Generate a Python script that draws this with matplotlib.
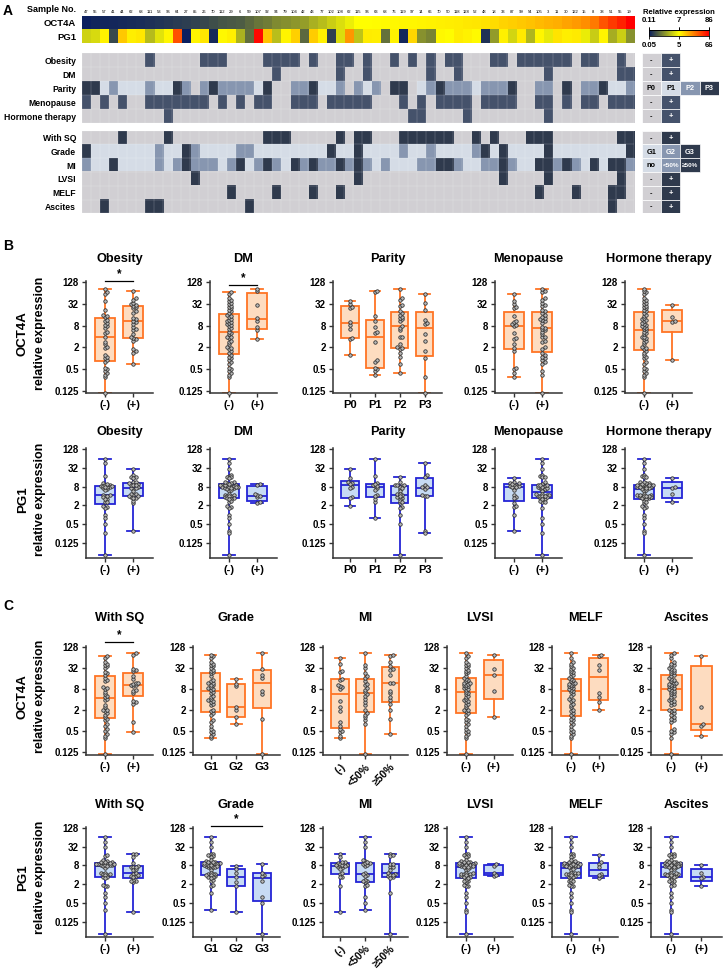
import numpy as np
import matplotlib.pyplot as plt
from matplotlib.colors import LinearSegmentedColormap, TwoSlopeNorm, to_rgba
from matplotlib.patches import Rectangle
from matplotlib.ticker import NullLocator

plt.rcParams['font.family'] = ['Liberation Sans', 'DejaVu Sans']
plt.rcParams['font.weight'] = 'bold'

W, H = 728, 971

# ---------------- data: one entry per sample, sorted by OCT4A ----------------
sample_no = ['47', '55', '57', '41', '44', '62', '68', '111', '53', '96',
             '64', '27', '85', '26', '70', '112', '29', '6', '59', '107',
             '92', '94', '79', '104', '42', '43', '77', '102', '108', '62',
             '115', '96', '63', '68', '76', '119', '97', '14', '66', '70',
             '50', '118', '128', '52', '48', '18', '33', '87', '99', '54',
             '105', '3', '11', '30', '122', '15', '8', '38', '51', '55', '19']

oct4a = [0.11, 0.3, 0.35, 0.4, 0.45, 0.5, 0.55, 0.7, 0.8, 0.9,
         1.0, 1.1, 1.2, 1.4, 1.6, 1.8, 1.9, 2.0, 2.4, 2.8,
         3.0, 3.4, 3.6, 3.8, 4.0, 4.6, 5.0, 5.5, 6.0, 6.5,
         7.0, 7.5, 8.0, 8.5, 9.0, 9.5, 10, 10.5, 11, 11.5,
         12, 13, 14, 15, 16, 18, 20, 22, 24, 26,
         28, 30, 32, 35, 38, 42, 48, 60, 68, 75, 86]

pg1 = [4.0, 4.2, 8.2, 1.0, 18, 9.2, 10.5, 3.5, 4.4, 7.1,
       46, 0.05, 7.8, 11, 0.3, 6.8, 8.6, 3.3, 1.8, 64,
       19, 3.6, 7.4, 16, 1.7, 17, 8.4, 0.8, 4.3, 30,
       3.7, 9.6, 9.0, 1.9, 7.9, 0.25, 15, 2.6, 2.3, 6.9,
       5.8, 9.4, 8.1, 6.2, 0.5, 2.8, 8.8, 4.1, 10.2, 3.4,
       7.3, 4.5, 11.5, 9.1, 9.9, 4.6, 3.9, 7.7, 3.2, 3.95, 2.6]

oct_scale = [0.11, 7, 86]
pg_scale = [0.05, 5, 66]

obesity = [0, 0, 0, 0, 0, 0, 0, 1, 0, 0,  0, 0, 0, 1, 1, 1, 0, 0, 0, 0,
           1, 1, 1, 1, 0, 1, 0, 0, 1, 1,  0, 1, 0, 0, 1, 0, 1, 0, 1, 0,
           1, 1, 0, 0, 0, 1, 1, 0, 1, 1,  1, 1, 1, 1, 0, 1, 1, 0, 0, 1, 0]
dm = [0, 0, 0, 0, 0, 0, 0, 0, 0, 0,  0, 0, 0, 0, 0, 0, 0, 0, 0, 0,
      0, 1, 0, 0, 0, 0, 0, 0, 1, 0,  0, 1, 0, 0, 0, 0, 0, 0, 1, 0,
      0, 1, 0, 0, 0, 0, 0, 0, 0, 0,  0, 1, 0, 0, 0, 0, 0, 0, 0, 1, 1]
parity = [3, 3, 1, 2, 1, 1, 1, 2, 1, 1,  3, 2, 0, 2, 3, 2, 2, 2, 2, 1,
          3, 0, 0, 2, 2, 3, 1, 1, 2, 0,  2, 1, 2, 0, 3, 3, 0, 1, 2, 3,
          2, 2, 2, 1, 2, 2, 2, 3, 0, 0,  2, 2, 0, 3, 0, 2, 2, 3, 1, 1, 2]
menopause = [1, 0, 1, 0, 1, 0, 0, 1, 1, 1,  1, 1, 1, 1, 0, 1, 0, 1, 0, 1,
             1, 0, 0, 1, 1, 1, 0, 1, 1, 1,  1, 1, 0, 0, 0, 1, 0, 1, 0, 1,
             1, 1, 1, 0, 1, 1, 1, 1, 0, 0,  1, 1, 0, 1, 0, 1, 1, 0, 1, 1, 1]
hormone = [0, 0, 0, 0, 0, 0, 0, 0, 0, 1,  0, 0, 0, 0, 0, 0, 0, 0, 0, 0,
           0, 0, 0, 0, 0, 0, 0, 0, 0, 0,  0, 0, 0, 0, 0, 0, 1, 1, 0, 0,
           0, 0, 1, 0, 0, 0, 0, 0, 0, 0,  0, 1, 0, 0, 0, 0, 0, 0, 0, 0, 0]
with_sq = [0, 0, 0, 0, 1, 0, 0, 0, 0, 1,  0, 0, 0, 0, 0, 0, 0, 0, 0, 0,
           1, 1, 1, 0, 0, 0, 0, 0, 1, 0,  1, 1, 0, 0, 0, 1, 1, 1, 1, 1,
           1, 0, 0, 1, 0, 1, 0, 0, 0, 1,  1, 1, 0, 0, 0, 0, 0, 0, 0, 1, 1]
grade = [3, 1, 1, 1, 1, 1, 1, 1, 2, 1,  1, 3, 2, 1, 1, 1, 1, 2, 2, 1,
         1, 1, 1, 1, 1, 1, 1, 3, 1, 1,  3, 1, 1, 1, 1, 2, 1, 1, 2, 1,
         1, 1, 1, 2, 3, 1, 3, 1, 1, 1,  1, 3, 1, 1, 1, 1, 1, 1, 1, 1, 3]
mi = [1, 0, 0, 2, 0, 0, 0, 0, 1, 0,  1, 2, 1, 1, 1, 0, 1, 2, 0, 1,
      2, 1, 0, 2, 1, 2, 1, 1, 2, 1,  2, 1, 0, 1, 0, 0, 0, 1, 1, 2,
      2, 1, 0, 0, 1, 1, 2, 1, 0, 0,  2, 2, 1, 2, 1, 0, 2, 0, 2, 2, 1]
lvsi = [0, 0, 0, 0, 0, 0, 0, 0, 0, 0,  0, 0, 1, 0, 0, 0, 0, 0, 0, 0,
        0, 0, 0, 0, 0, 0, 0, 0, 0, 0,  1, 0, 0, 0, 0, 0, 0, 0, 0, 0,
        0, 0, 0, 0, 0, 0, 1, 0, 0, 0,  0, 1, 0, 0, 0, 0, 0, 0, 0, 1, 0]
melf = [0, 0, 0, 0, 0, 0, 0, 0, 0, 0,  0, 0, 0, 0, 0, 0, 1, 0, 0, 0,
        0, 1, 0, 0, 0, 1, 0, 0, 1, 0,  0, 0, 0, 0, 0, 0, 0, 0, 0, 0,
        0, 0, 0, 0, 0, 0, 0, 0, 0, 0,  1, 0, 0, 0, 1, 0, 0, 0, 1, 1, 0]
ascites = [0, 0, 1, 0, 0, 0, 0, 1, 1, 0,  0, 0, 0, 0, 0, 0, 0, 0, 1, 0,
           0, 0, 0, 0, 0, 0, 0, 0, 0, 0,  0, 0, 0, 0, 0, 0, 0, 0, 0, 0,
           0, 0, 0, 0, 0, 0, 0, 0, 0, 0,  0, 0, 0, 0, 0, 0, 0, 0, 1, 0, 0]

pn_labels = ['(-)', '(+)']
parity_labels = ['P0', 'P1', 'P2', 'P3']
grade_labels = ['G1', 'G2', 'G3']
mi_labels = ['(-)', '<50%', '≥50%']

# ---------------- colours ----------------
GRAY, LIGHT, MED, DARK1, DARK2 = '#d1cfd3', '#d5dce6', '#8796b0', '#45526b', '#2f3a4d'
cmap = LinearSegmentedColormap.from_list('rel', ['#0b1f5f', '#ffff00', '#ff0000'])
OR_EDGE, OR_FACE = '#ff7424', '#fddcc0'
BL_EDGE, BL_FACE = '#2424d6', '#c7dbf4'

fig = plt.figure(figsize=(W / 100, H / 100), dpi=100)


def px_axes(x0, y0, x1, y1):
    return fig.add_axes([x0 / W, 1 - y1 / H, (x1 - x0) / W, (y1 - y0) / H])


def ftext(x, y, s, **kw):
    fig.text(x / W, 1 - y / H, s, **kw)


n = len(sample_no)

# ---------------- panel A: expression heatmap ----------------
ax = px_axes(81.7, 15.7, 634, 43.3)
rgba = np.array([cmap(TwoSlopeNorm(oct_scale[1], oct_scale[0], oct_scale[2])(oct4a)),
                 cmap(TwoSlopeNorm(pg_scale[1], pg_scale[0], pg_scale[2])(pg1))])
ax.imshow(rgba, aspect='auto', interpolation='nearest')
ax.xaxis.tick_top()
ax.set_xticks(range(n), sample_no, fontsize=3, fontweight='normal')
ax.set_yticks([0, 1], ['OCT4A', 'PG1'], fontsize=6.8)
ax.tick_params(length=0, pad=1.5, axis='x')
ax.tick_params(length=0, pad=4, axis='y')
for s in ax.spines.values():
    s.set_visible(False)
ftext(76, 10, 'Sample No.', fontsize=6.5, ha='right', va='center')


def clinical_block(y0, y1, rows, names, palettes):
    axb = px_axes(81.7, y0, 634, y1)
    img = np.array([[to_rgba(pal[v]) for v in row] for row, pal in zip(rows, palettes)])
    axb.imshow(img, aspect='auto', interpolation='nearest')
    axb.set_xticks(np.arange(-0.5, n, 1), minor=True)
    axb.set_yticks(np.arange(-0.5, len(rows), 1), minor=True)
    axb.grid(which='minor', color='white', lw=0.35, alpha=0.35)
    axb.set_xticks([])
    axb.set_yticks(range(len(rows)), names, fontsize=6.2)
    axb.tick_params(which='both', length=0, pad=4)
    for s in axb.spines.values():
        s.set_visible(False)


def legend_block(y0, y1, entries, palettes):
    axl = px_axes(641.7, y0, 719, y1)
    axl.set_xlim(0, 4)
    axl.set_ylim(len(entries), 0)
    axl.axis('off')
    for r, (labs, pal) in enumerate(zip(entries, palettes)):
        for j, lab in enumerate(labs):
            fc = pal[j]
            axl.add_patch(Rectangle((j, r), 1, 1, fc=fc, ec='white', lw=0.5))
            tc = 'white' if fc in (MED, DARK1, DARK2) else 'black'
            axl.text(j + 0.5, r + 0.55, lab, ha='center', va='center',
                     fontsize=5.3 if len(lab) < 3 else 4.6, color=tc)


bin1 = [GRAY, DARK1]
bin2 = [GRAY, DARK2]
clinical_block(53.3, 123.0, [obesity, dm, parity, menopause, hormone],
               ['Obesity', 'DM', 'Parity', 'Menopause', 'Hormone therapy'],
               [bin1, bin1, [GRAY, LIGHT, MED, DARK2], bin1, bin1])
legend_block(53.3, 123.0, [['-', '+'], ['-', '+'], parity_labels, ['-', '+'], ['-', '+']],
             [bin1, bin1, [GRAY, LIGHT, MED, DARK2], bin1, bin1])

grade0 = [g - 1 for g in grade]
clinical_block(130.7, 213.3, [with_sq, grade0, mi, lvsi, melf, ascites],
               ['With SQ', 'Grade', 'MI', 'LVSI', 'MELF', 'Ascites'],
               [bin2, [LIGHT, MED, DARK2], [LIGHT, MED, DARK2], bin2, bin2, bin2])
legend_block(130.7, 213.3, [['-', '+'], grade_labels, ['no', '<50%', '≥50%'],
                            ['-', '+'], ['-', '+'], ['-', '+']],
             [bin2, [LIGHT, MED, DARK2], [LIGHT, MED, DARK2], bin2, bin2, bin2])

# colour scale legend
ftext(679, 12, 'Relative expression', fontsize=5.5, ha='center', va='center')
axc = px_axes(649.3, 30, 709.3, 36)
axc.imshow(np.linspace(0, 1, 256)[None, :], cmap=cmap, aspect='auto', extent=(0, 1, 0, 1))
axc.set_xlim(0, 1)
axc.set_yticks([])
axc.set_xticks([0, 0.5, 1], [str(v) for v in pg_scale], fontsize=5.6)
axc.tick_params(axis='x', length=2.5, width=0.6, pad=1.5, top=True)
sec = axc.secondary_xaxis('top')
sec.set_xticks([0, 0.5, 1], [str(v) for v in oct_scale], fontsize=5.6)
sec.tick_params(length=2.5, width=0.6, pad=1.5)
for s in list(axc.spines.values()) + list(sec.spines.values()):
    s.set_linewidth(0.6)

# ---------------- panels B and C: box plots ----------------
TICKS = [0.125, 0.5, 2, 8, 32, 128]


def swarm(yl, ppy, ppx, d=3.0):
    placed, off = [], np.zeros(len(yl))
    for i in np.argsort(yl):
        y = yl[i] * ppy
        for k in range(60):
            m = (k + 1) // 2 * (1 if k % 2 else -1)
            x = m * d * 0.75
            if all((x - a) ** 2 + (y - b) ** 2 >= (d * 0.7) ** 2 for a, b in placed):
                break
        placed.append((x, y))
        off[i] = x / ppx
    return off


def prism_stats(vals):
    # quartiles the way GraphPad Prism computes them ((n+1)p positions)
    q1, med, q3 = np.percentile(vals, [25, 50, 75], method='weibull')
    return dict(med=med, q1=q1, q3=q3, whislo=vals.min(), whishi=vals.max(), fliers=[])


def box_panel(x0, x1, y0, y1, ylo, values, groups, labels, edge, face, rotate=False):
    ax = px_axes(x0, y0, x1, y1)
    k = len(labels)
    xlim = (-0.68, k - 0.3)
    ppx = (x1 - x0) / (xlim[1] - xlim[0])
    ppy = (y1 - y0) / (7.1 - ylo)
    values = np.asarray(values, float)
    groups = np.asarray(groups)
    data = [values[groups == j] for j in range(k)]
    ax.bxp([prism_stats(v) for v in data], positions=range(k), widths=0.7,
           patch_artist=True, showfliers=False, capwidths=0.42,
           boxprops=dict(facecolor=face, edgecolor=edge, linewidth=1.3),
           medianprops=dict(color=edge, linewidth=1.3),
           whiskerprops=dict(color=edge, linewidth=1.3),
           capprops=dict(color=edge, linewidth=1.3))
    for j, vals in enumerate(data):
        off = swarm(np.log2(vals), ppy, ppx)
        ax.plot(j + off, vals, 'o', ms=2.5, mfc='#b9b9b9', mec='#2a2a2a', mew=0.55,
                zorder=4, clip_on=False)
    ax.set_yscale('log', base=2)
    ax.set_ylim(2 ** ylo, 2 ** 7.1)
    ax.set_xlim(*xlim)
    ax.set_yticks(TICKS, ['0.125', '0.5', '2', '8', '32', '128'], fontsize=7)
    ax.yaxis.set_minor_locator(NullLocator())
    if rotate:
        ax.set_xticks(range(k), labels, fontsize=7.6, rotation=45, ha='right',
                      rotation_mode='anchor')
    else:
        ax.set_xticks(range(k), labels, fontsize=8)
    ax.tick_params(length=3, width=1, pad=2, color='#333333')
    for s in ['top', 'right']:
        ax.spines[s].set_visible(False)
    for s in ['left', 'bottom']:
        ax.spines[s].set_color('#333333')
        ax.spines[s].set_linewidth(1.1)
    return ax


def sig(ax, xa, xb, ylog):
    ax.plot([xa, xb], [2 ** ylog] * 2, color='black', lw=0.9, clip_on=False)
    ax.annotate('*', (0.5 * (xa + xb), 2 ** ylog), xytext=(0, 0.5), textcoords='offset points',
                ha='center', va='bottom', fontsize=8.5, annotation_clip=False)


b_cols = [(86, 153, 'Obesity', obesity, pn_labels),
          (210, 277, 'DM', dm, pn_labels),
          (333, 442, 'Parity', parity, parity_labels),
          (495, 562, 'Menopause', menopause, pn_labels),
          (625, 692, 'Hormone therapy', hormone, pn_labels)]
c_cols = [(86, 153, 'With SQ', with_sq, pn_labels),
          (193, 280, 'Grade', grade0, grade_labels),
          (323, 408, 'MI', mi, mi_labels),
          (447, 513, 'LVSI', lvsi, pn_labels),
          (552, 618, 'MELF', melf, pn_labels),
          (651, 722, 'Ascites', ascites, pn_labels)]

# rows: (columns, title y, axes top, axes bottom, ylow, values, colours, gene)
rows = [(b_cols, 259, 281.2, 393.0, -3.21, oct4a, OR_EDGE, OR_FACE, 'OCT4A'),
        (b_cols, 432, 448.4, 558.3, -4.67, pg1, BL_EDGE, BL_FACE, 'PG1'),
        (c_cols, 618, 645.6, 755.0, -3.31, oct4a, OR_EDGE, OR_FACE, 'OCT4A'),
        (c_cols, 805, 826.8, 936.7, -4.60, pg1, BL_EDGE, BL_FACE, 'PG1')]

axes = {}
for ri, (cols, ty, top, bot, ylo, vals, ec, fc, gene) in enumerate(rows):
    for (x0, x1, title, grp, labs) in cols:
        a = box_panel(x0, x1, top, bot, ylo, vals, grp, labs, ec, fc, rotate=(title == 'MI'))
        axes[(ri, title)] = a
        ftext((x0 + x1) / 2, ty, title, fontsize=9.2, ha='center', va='center')
    cy = (top + bot) / 2 - 4
    ftext(23, cy, gene, fontsize=9.5, rotation=90, ha='center', va='center')
    ftext(40, cy, 'relative expression', fontsize=9, rotation=90, ha='center', va='center')

sig(axes[(0, 'Obesity')], 0, 1, 7.15)
sig(axes[(0, 'DM')], 0, 1, 6.75)
sig(axes[(2, 'With SQ')], 0, 1, 7.42)
sig(axes[(3, 'Grade')], 0, 2, 7.18)

ftext(8, 11, 'A', fontsize=10, ha='center', va='center')
ftext(8, 246, 'B', fontsize=10, ha='center', va='center')
ftext(8, 606, 'C', fontsize=10, ha='center', va='center')

fig.savefig('out.png', dpi=100)
